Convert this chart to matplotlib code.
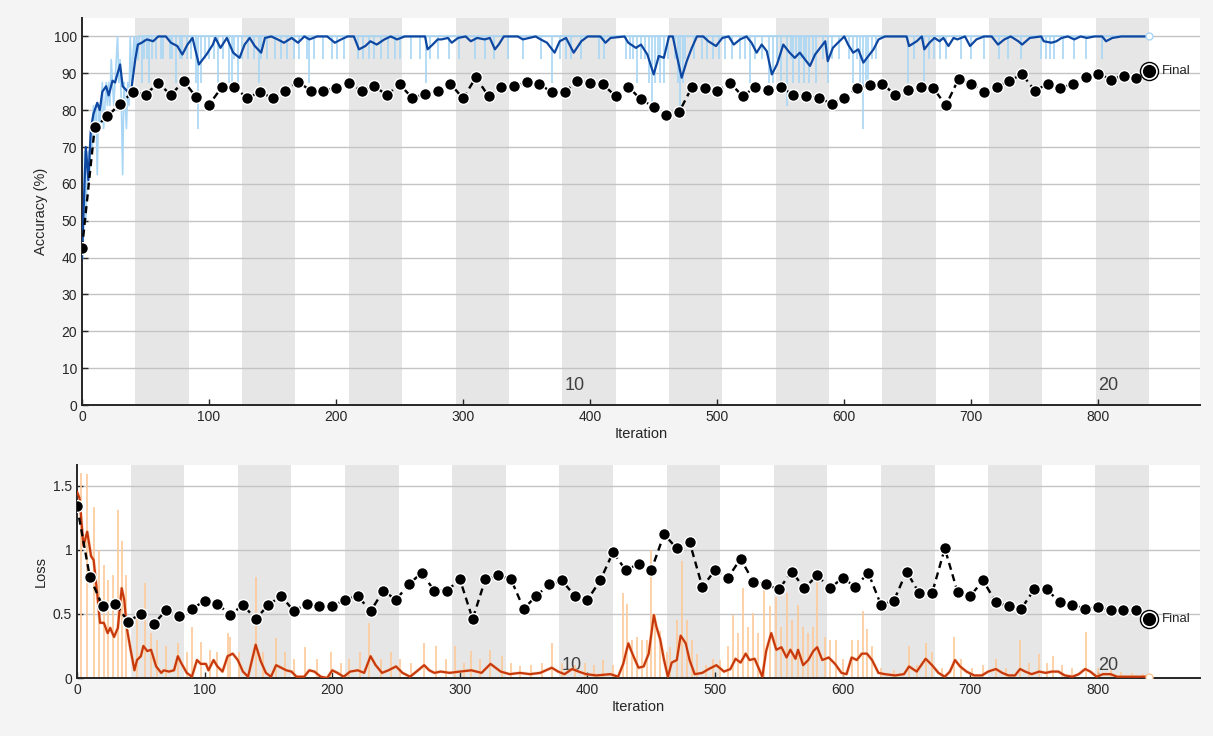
import numpy as np
import matplotlib.pyplot as plt

plt.rcParams['font.family'] = ['Liberation Sans', 'DejaVu Sans']

# epochs
n_epochs = 20
iters_per_epoch = 42
epoch_labels = ["10", "20"]
epoch_label_iters = [380, 800]

# validation (every 10 iterations)
val_iter = np.arange(0, 841, 10)
val_acc = [42.5, 75.3, 78.3, 81.8, 84.9, 84.2, 87.4, 84.1, 87.9, 83.5,
           81.5, 86.2, 86.2, 83.3, 84.9, 83.3, 85.3, 87.7, 85.3, 85.3,
           86.0, 87.4, 85.3, 86.5, 84.1, 87.0, 83.3, 84.4, 85.2, 87.1,
           83.2, 88.9, 83.8, 86.2, 86.5, 87.6, 87.0, 84.9, 84.9, 88.0,
           87.4, 87.0, 83.8, 86.3, 82.9, 80.9, 78.8, 79.5, 86.2, 86.0,
           85.2, 87.4, 83.8, 86.3, 85.6, 86.3, 84.1, 83.8, 83.3, 81.8,
           83.3, 86.0, 86.7, 87.2, 84.1, 85.6, 86.2, 86.0, 81.3, 88.5,
           87.2, 84.9, 86.3, 88.0, 89.7, 85.3, 87.1, 86.0, 87.1, 88.9,
           89.9, 88.3, 89.4, 88.6, 90.6]
val_loss = [1.34, 0.79, 0.56, 0.58, 0.44, 0.50, 0.42, 0.53, 0.48, 0.54,
            0.60, 0.58, 0.49, 0.57, 0.46, 0.57, 0.64, 0.52, 0.58, 0.56,
            0.56, 0.61, 0.64, 0.52, 0.68, 0.61, 0.73, 0.82, 0.68, 0.68,
            0.77, 0.46, 0.77, 0.80, 0.77, 0.54, 0.64, 0.73, 0.76, 0.64,
            0.61, 0.76, 0.98, 0.84, 0.89, 0.84, 1.12, 1.01, 1.06, 0.71,
            0.84, 0.78, 0.93, 0.75, 0.73, 0.69, 0.83, 0.70, 0.80, 0.70,
            0.78, 0.71, 0.82, 0.57, 0.60, 0.83, 0.66, 0.66, 1.01, 0.67,
            0.64, 0.76, 0.59, 0.56, 0.54, 0.69, 0.69, 0.59, 0.57, 0.54,
            0.55, 0.53, 0.53, 0.53, 0.46]

# training accuracy, smoothed
acc_s_iter = [0, 3, 5, 7, 9, 12, 14, 16, 19, 21, 24, 26, 30, 32, 36, 39, 42, 44, 47, 51,
              56, 60, 66, 70, 75, 79, 83, 87, 92, 98, 103, 105, 109, 114, 119, 124, 128, 132, 136, 141,
              144, 149, 154, 159, 165, 170, 175, 179, 185, 193, 199, 204, 209, 214, 218, 223, 227, 232, 238, 243,
              248, 254, 270, 272, 276, 280, 283, 288, 291, 296, 302, 306, 311, 317, 321, 325, 328, 332, 343, 347,
              352, 357, 361, 366, 372, 376, 381, 387, 393, 398, 408, 412, 416, 427, 430, 436, 440, 445, 450, 454,
              458, 462, 465, 468, 472, 476, 480, 484, 489, 493, 499, 504, 509, 513, 518, 523, 527, 531, 535, 539,
              543, 547, 552, 557, 561, 565, 569, 573, 577, 581, 585, 587, 591, 595, 600, 603, 607, 611, 615, 619,
              623, 627, 632, 649, 651, 657, 661, 663, 667, 671, 675, 678, 682, 686, 689, 695, 699, 704, 710, 716,
              721, 726, 731, 737, 740, 746, 755, 757, 763, 767, 771, 776, 781, 786, 791, 797, 803, 806, 811, 818, 840]
acc_s_val = [40, 70, 61, 75, 79, 82, 80, 85, 86.5, 84, 88, 87.5, 92.4, 86.5, 85, 86, 94, 97.8, 98.3, 99.2,
             98.7, 100, 100, 98.3, 97.4, 95.1, 97.8, 99.6, 92.4, 95.1, 97.8, 99.6, 96.9, 99.6, 95.6, 94.2, 97.8, 99.6, 97.4, 95.6,
             99.6, 100, 99.2, 98.3, 99.6, 98.3, 100, 99.2, 100, 100, 98.3, 99.2, 100, 100, 96.5, 97.4, 98.7, 97.8, 99.2, 100,
             99.2, 100, 100, 96.5, 97.8, 99.2, 99.2, 99.6, 98.3, 99.6, 100, 98.7, 99.6, 99.2, 99.6, 96.5, 97.8, 100, 100, 99.2,
             99.6, 100, 99.2, 98.3, 95.6, 98.7, 99.6, 95.6, 98.7, 100, 100, 98.3, 99.6, 100, 98.3, 96.9, 97.8, 95.1, 89.7, 94.7,
             94.2, 100, 100, 95.1, 88.8, 93.3, 96.9, 100, 100, 98.7, 97.4, 99.6, 100, 97.8, 99.2, 100, 98.3, 95.6, 97.8, 96.0,
             89.7, 92.4, 97.8, 95.6, 94.2, 95.6, 93.8, 92.0, 95.1, 96.9, 98.7, 93.3, 96.9, 98.3, 100, 97.8, 95.6, 96.5, 92.9, 94.7,
             96.5, 99.2, 100, 100, 97.4, 98.7, 100, 96.5, 98.3, 99.6, 98.7, 99.6, 97.4, 99.6, 99.2, 100, 97.4, 99.2, 100, 100,
             97.8, 99.2, 100, 98.7, 97.8, 99.6, 100, 98.7, 98.3, 98.7, 99.6, 100, 99.2, 100, 99.6, 100, 100, 98.7, 99.6, 100, 100]

# training accuracy, raw: first iterations, then mini-batch dips below 100
acc_raw_early = [37.5, 43.75, 68.75, 50, 62.5, 68.75, 62.5, 75, 68.75, 81.25, 75, 81.25, 62.5, 81.25, 75, 81.25,
                 87.5, 75, 81.25, 87.5, 81.25, 87.5, 81.25, 93.75, 87.5, 81.25, 87.5, 93.75, 100, 87.5, 93.75,
                 81.25, 62.5, 87.5, 81.25, 75, 87.5, 81.25, 100, 87.5, 93.75, 100, 93.75, 100, 93.75, 100]
acc_dip_iter = [47, 49, 51, 53, 55, 58, 62, 64, 69, 71, 74, 77, 79, 83, 86, 90, 91, 94, 97, 100,
                104, 107, 111, 116, 118, 120, 123, 126, 131, 135, 139, 141, 146, 152, 157, 161, 167, 171, 177, 179,
                183, 190, 197, 201, 206, 217, 221, 226, 230, 235, 241, 246, 250, 259, 266, 271, 274, 280, 289, 297,
                309, 317, 324, 335, 347, 361, 370, 376, 381, 385, 393, 407, 411, 428, 431, 434, 437, 440, 443, 446,
                449, 451, 453, 455, 458, 461, 467, 469, 471, 473, 475, 482, 488, 492, 497, 501, 506, 512, 518, 522,
                526, 530, 535, 541, 544, 547, 550, 555, 558, 560, 562, 564, 566, 568, 570, 572, 575, 578, 583, 587,
                590, 596, 604, 607, 610, 612, 615, 617, 619, 622, 625, 650, 655, 663, 667, 671, 675, 680, 692, 700,
                710, 722, 729, 739, 755, 759, 762, 765, 772, 781, 790, 803]
acc_dip_val = [87.5, 93.75, 93.75, 87.5, 93.75, 93.75, 93.75, 93.75, 93.75, 93.75, 87.5, 93.75, 93.75, 93.75, 93.75, 87.5, 75, 87.5, 93.75, 93.75,
               93.75, 87.5, 93.75, 87.5, 87.5, 93.75, 87.5, 93.75, 93.75, 93.75, 87.5, 93.75, 93.75, 93.75, 93.75, 93.75, 93.75, 93.75, 93.75, 87.5,
               93.75, 93.75, 93.75, 93.75, 93.75, 93.75, 93.75, 93.75, 93.75, 93.75, 93.75, 93.75, 93.75, 93.75, 93.75, 87.5, 93.75, 93.75, 93.75, 93.75,
               93.75, 93.75, 93.75, 93.75, 93.75, 93.75, 87.5, 93.75, 93.75, 93.75, 93.75, 93.75, 93.75, 93.75, 93.75, 93.75, 87.5, 93.75, 93.75, 87.5,
               81.25, 87.5, 93.75, 87.5, 87.5, 93.75, 93.75, 87.5, 81.25, 87.5, 93.75, 93.75, 93.75, 93.75, 93.75, 93.75, 93.75, 93.75, 93.75, 93.75,
               87.5, 93.75, 93.75, 87.5, 87.5, 93.75, 87.5, 81.25, 93.75, 87.5, 93.75, 87.5, 93.75, 87.5, 93.75, 87.5, 93.75, 87.5, 93.75, 87.5,
               93.75, 93.75, 93.75, 87.5, 93.75, 87.5, 75, 87.5, 87.5, 93.75, 93.75, 87.5, 93.75, 87.5, 93.75, 93.75, 93.75, 93.75, 93.75, 93.75,
               93.75, 93.75, 93.75, 93.75, 93.75, 93.75, 93.75, 93.75, 93.75, 93.75, 93.75, 93.75]

# training loss, smoothed
loss_s_iter = [0, 2, 5, 8, 11, 13, 16, 18, 21, 24, 26, 29, 32, 35, 37, 39, 42, 45, 47, 50,
               52, 55, 58, 62, 66, 68, 72, 76, 79, 82, 86, 90, 94, 97, 101, 103, 107, 110, 114, 118,
               122, 126, 130, 134, 140, 144, 148, 152, 156, 160, 164, 168, 172, 178, 182, 186, 191, 196, 200, 204,
               209, 214, 220, 225, 230, 234, 239, 244, 250, 255, 261, 266, 272, 276, 280, 285, 292, 300, 309, 317,
               324, 328, 332, 339, 347, 355, 363, 372, 377, 382, 388, 393, 399, 407, 418, 424, 428, 432, 436, 440,
               444, 448, 452, 454, 457, 460, 463, 466, 470, 473, 477, 480, 484, 490, 495, 501, 507, 512, 516, 520,
               524, 527, 531, 537, 540, 544, 548, 552, 556, 559, 563, 565, 569, 573, 577, 580, 584, 589, 594, 599,
               603, 607, 611, 615, 619, 623, 628, 633, 641, 648, 652, 658, 665, 670, 675, 680, 684, 688, 692, 697,
               703, 709, 714, 720, 725, 730, 735, 739, 743, 748, 754, 759, 764, 769, 774, 780, 785, 790, 794, 799,
               804, 810, 815, 827, 840]
loss_s_val = [1.45, 1.40, 1.03, 1.14, 0.95, 0.92, 0.64, 0.43, 0.43, 0.35, 0.39, 0.32, 0.39, 0.70, 0.61, 0.39, 0.22, 0.06, 0.14, 0.17,
              0.25, 0.21, 0.22, 0.09, 0.04, 0.06, 0.05, 0.06, 0.17, 0.11, 0.04, 0.01, 0.14, 0.11, 0.11, 0.06, 0.14, 0.09, 0.05, 0.17,
              0.19, 0.14, 0.05, 0.01, 0.26, 0.13, 0.04, 0.01, 0.10, 0.08, 0.06, 0.05, 0.01, 0.01, 0.06, 0.05, 0.01, 0.00, 0.06, 0.04,
              0.01, 0.05, 0.06, 0.04, 0.17, 0.10, 0.04, 0.06, 0.09, 0.04, 0.01, 0.05, 0.10, 0.06, 0.04, 0.05, 0.04, 0.05, 0.06, 0.04,
              0.11, 0.08, 0.05, 0.03, 0.04, 0.03, 0.04, 0.08, 0.05, 0.03, 0.07, 0.05, 0.03, 0.02, 0.03, 0.01, 0.11, 0.27, 0.17, 0.08,
              0.09, 0.19, 0.49, 0.40, 0.30, 0.14, 0.01, 0.12, 0.14, 0.33, 0.27, 0.14, 0.03, 0.04, 0.07, 0.10, 0.05, 0.07, 0.15, 0.12,
              0.19, 0.14, 0.15, 0.01, 0.21, 0.35, 0.22, 0.24, 0.16, 0.22, 0.15, 0.22, 0.10, 0.14, 0.21, 0.24, 0.14, 0.16, 0.11, 0.04,
              0.03, 0.16, 0.14, 0.19, 0.19, 0.14, 0.04, 0.03, 0.02, 0.03, 0.09, 0.05, 0.15, 0.10, 0.04, 0.01, 0.05, 0.14, 0.09, 0.05,
              0.02, 0.02, 0.05, 0.07, 0.04, 0.02, 0.02, 0.07, 0.05, 0.03, 0.05, 0.04, 0.05, 0.05, 0.02, 0.01, 0.03, 0.07, 0.05, 0.01,
              0.03, 0.03, 0.01, 0.01, 0.01]

# training loss, raw spikes
loss_spk_iter = [3, 8, 13, 17, 21, 24, 28, 32, 35, 38, 47, 53, 58, 63, 70, 79, 86, 90, 97, 104,
                 110, 118, 120, 127, 140, 146, 156, 163, 170, 179, 188, 199, 207, 213, 222, 229, 238, 246, 253, 262,
                 272, 281, 289, 296, 303, 309, 316, 324, 333, 340, 347, 356, 364, 372, 380, 390, 398, 405, 412, 420,
                 428, 431, 435, 439, 443, 447, 450, 453, 457, 462, 465, 470, 474, 478, 482, 486, 493, 498, 504, 510,
                 514, 518, 522, 526, 530, 534, 538, 543, 548, 552, 556, 560, 565, 569, 573, 577, 580, 586, 590, 595,
                 600, 607, 612, 616, 619, 623, 630, 640, 652, 658, 665, 670, 678, 687, 693, 701, 710, 720, 728, 739,
                 746, 754, 760, 765, 772, 780, 791, 800, 810, 818, 827, 835]
loss_spk_val = [1.60, 1.59, 1.33, 1.0, 0.88, 0.76, 0.80, 1.31, 1.07, 0.8, 0.5, 0.74, 0.35, 0.3, 0.25, 0.27, 0.2, 0.40, 0.28, 0.22,
                0.2, 0.35, 0.32, 0.2, 0.79, 0.2, 0.31, 0.2, 0.15, 0.24, 0.15, 0.20, 0.12, 0.15, 0.2, 0.43, 0.15, 0.2, 0.15, 0.12,
                0.27, 0.25, 0.15, 0.25, 0.12, 0.21, 0.15, 0.22, 0.17, 0.12, 0.09, 0.1, 0.12, 0.27, 0.12, 0.1, 0.12, 0.1, 0.14, 0.1,
                0.66, 0.58, 0.3, 0.32, 0.30, 0.3, 1.0, 0.5, 0.37, 0.2, 0.24, 0.45, 0.91, 0.45, 0.3, 0.19, 0.1, 0.15, 0.14, 0.25,
                0.49, 0.35, 0.70, 0.4, 0.51, 0.35, 0.69, 0.56, 0.63, 0.4, 0.66, 0.45, 0.57, 0.4, 0.35, 0.4, 0.82, 0.32, 0.3, 0.30,
                0.15, 0.30, 0.30, 0.52, 0.38, 0.25, 0.08, 0.06, 0.25, 0.1, 0.27, 0.2, 0.08, 0.32, 0.15, 0.08, 0.1, 0.15, 0.08, 0.30,
                0.12, 0.19, 0.12, 0.17, 0.1, 0.08, 0.36, 0.08, 0.06, 0.05, 0.04, 0.03]

raw_blue = '#a9d6f5'
dark_blue = '#0d47a1'
raw_orange = '#fdc899'
dark_orange = '#c7390d'
band = '#e6e6e6'

fig = plt.figure(figsize=(12.13, 7.36), dpi=100, facecolor='#f4f4f4')
ax1 = fig.add_axes([0.0676, 0.4497, 0.9217, 0.5258])
ax2 = fig.add_axes([0.0635, 0.0788, 0.9258, 0.2894])


def style(ax, ylim):
    ax.set_xlim(0, 880)
    ax.set_ylim(*ylim)
    for k in range(2, n_epochs + 1, 2):
        ax.axvspan((k - 1) * iters_per_epoch, k * iters_per_epoch, color=band, lw=0, zorder=0)
    ax.grid(True, axis='y', color='#c4c4c4', lw=1, zorder=0.5)
    ax.set_axisbelow(True)
    for s in ['top', 'right']:
        ax.spines[s].set_visible(False)
    for s in ['left', 'bottom']:
        ax.spines[s].set_linewidth(1.4)
        ax.spines[s].set_color('#262626')
    ax.tick_params(direction='in', length=4, width=1, labelsize=10, colors='#262626')
    ax.set_xticks(np.arange(0, 801, 100))
    ax.set_xlabel('Iteration', fontsize=10.5, labelpad=2, color='#262626')


def final_mark(ax, x, y):
    ax.plot(x, y, 'o', ms=13, mfc='white', mec='black', mew=1.0, zorder=5)
    ax.plot(x, y, 'o', ms=8.5, mfc='black', mec='black', zorder=6)
    ax.text(x + 10, y, 'Final', fontsize=9.5, va='center', color='#262626')


# accuracy
style(ax1, (0, 105))
ax1.set_yticks(np.arange(0, 101, 10))
ax1.set_ylabel('Accuracy (%)', fontsize=10.5, color='#262626')
for lab, it in zip(epoch_labels, epoch_label_iters):
    ax1.text(it, 4, lab, fontsize=13, color='#404040', zorder=1)
ax1.plot(np.arange(len(acc_raw_early)), acc_raw_early, color=raw_blue, lw=1.2, zorder=2)
ax1.vlines(acc_dip_iter, acc_dip_val, 100, color=raw_blue, lw=1.2, zorder=2)
ax1.hlines(100, len(acc_raw_early) - 1, 840, color=raw_blue, lw=1.2, zorder=2)
ax1.plot(acc_s_iter, acc_s_val, color=dark_blue, lw=1.6, zorder=3)
ax1.plot(840, 100, 'o', ms=5, mfc='white', mec=raw_blue, zorder=3)
ax1.plot(val_iter, val_acc, color='black', ls='--', dashes=(3, 2), lw=1.7, marker='o', ms=8.5,
         mfc='black', mec='white', mew=1, zorder=4)
final_mark(ax1, val_iter[-1], val_acc[-1])

# loss
style(ax2, (0, 1.66))
ax2.set_yticks([0, 0.5, 1, 1.5])
ax2.set_yticklabels(['0', '0.5', '1', '1.5'])
ax2.set_ylabel('Loss', fontsize=10.5, color='#262626')
for lab, it in zip(epoch_labels, epoch_label_iters):
    ax2.text(it, 0.06, lab, fontsize=13, color='#404040', zorder=1)
ax2.vlines(loss_spk_iter, 0, loss_spk_val, color=raw_orange, lw=1.2, zorder=2)
ax2.plot(loss_s_iter, loss_s_val, color=raw_orange, lw=2.5, alpha=0.6, zorder=2)
ax2.plot(loss_s_iter, loss_s_val, color=dark_orange, lw=1.6, zorder=3)
ax2.plot(840, 0.01, 'o', ms=5, mfc='white', mec=raw_orange, zorder=3)
ax2.plot(val_iter, val_loss, color='black', ls='--', dashes=(3, 2), lw=1.7, marker='o', ms=8.5,
         mfc='black', mec='white', mew=1, zorder=4)
final_mark(ax2, val_iter[-1], val_loss[-1])

fig.savefig('out.png', dpi=100, facecolor=fig.get_facecolor())
